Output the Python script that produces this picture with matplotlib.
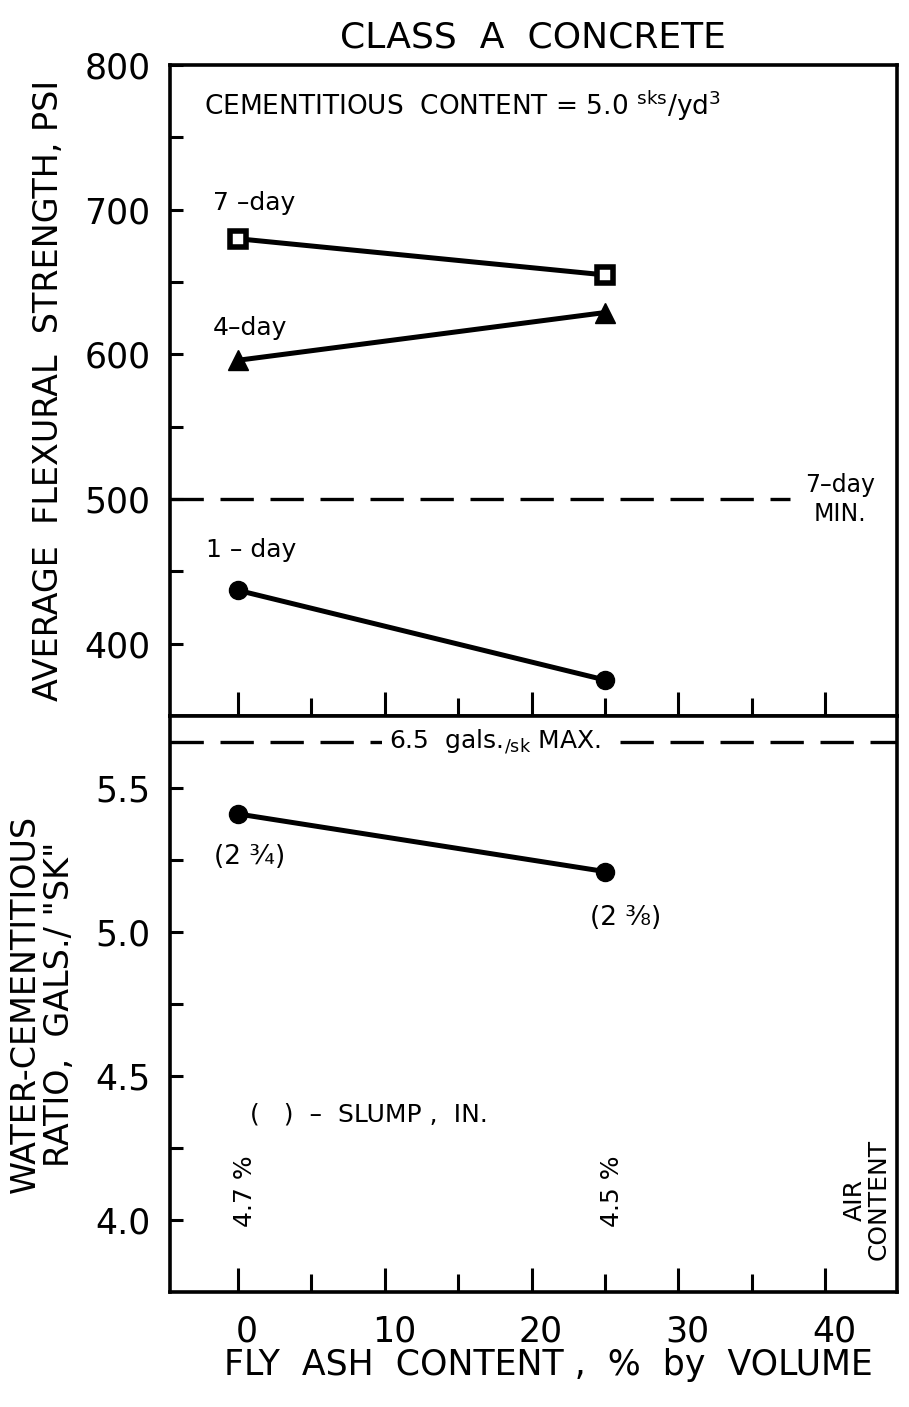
import matplotlib
matplotlib.use('Agg')
from matplotlib import pyplot as plt
from matplotlib import transforms
import numpy as np

# data
fly_ash = [0, 25]
flex_7day = [680, 655]
flex_4day = [596, 629]
flex_1day = [437, 375]
wc_ratio = [5.41, 5.21]
slump_labels = ['(2 ¾)', '(2 ⅜)']
air_labels = ['4.7 %', '4.5 %']
x_ticks = [0, 10, 20, 30, 40]
flex_ticks = [400, 500, 600, 700, 800]
wc_ticks = [4.0, 4.5, 5.0, 5.5]
min_flex_7day = 500
max_wc = 5.66

plt.rcParams['font.family'] = ['DejaVu Sans']

fig = plt.figure(figsize=(9.09, 14.07), dpi=100)
ax1 = fig.add_axes([0.187, 0.491, 0.800, 0.4627])
ax2 = fig.add_axes([0.187, 0.0817, 0.800, 0.4094])

xlim = (-4.63, 44.9)

# top panel: flexural strength
ax1.plot(fly_ash, flex_7day, color='black', lw=3.6, marker='s', ms=11,
         mfc='white', mec='black', mew=4)
ax1.plot(fly_ash, flex_4day, color='black', lw=3.6, marker='^', ms=14, mfc='black', mec='black')
ax1.plot(fly_ash, flex_1day, color='black', lw=3.6, marker='o', ms=13, mfc='black', mec='black')
ax1.plot([xlim[0], 37.6], [min_flex_7day, min_flex_7day], color='black', lw=2.4, dashes=(10, 5))

ax1.set_xlim(*xlim)
ax1.set_ylim(350, 800)
ax1.set_xticks(x_ticks)
ax1.set_xticks(np.arange(5, 45, 10), minor=True)
ax1.set_yticks(flex_ticks)
ax1.set_yticks(np.arange(350, 800, 100), minor=True)
ax1.tick_params(axis='x', which='both', direction='in', width=2.2, labelbottom=False)
ax1.tick_params(axis='x', which='major', length=17)
ax1.tick_params(axis='x', which='minor', length=13)
ax1.tick_params(axis='y', which='both', direction='in', length=9, width=2.2, labelsize=25, pad=14)

ax1.text(-2.3, 772, r'CEMENTITIOUS  CONTENT = 5.0 $^{\mathregular{sks}}$/yd$^{\mathregular{3}}$',
         fontsize=19, va='center', ha='left')
ax1.text(-1.7, 705, '7 –day', fontsize=18, va='center', ha='left')
ax1.text(-1.7, 618, '4–day', fontsize=18, va='center', ha='left')
ax1.text(-2.2, 465, '1 – day', fontsize=18, va='center', ha='left')
ax1.text(41.0, 500, '7–day\nMIN.', fontsize=17, va='center', ha='center', linespacing=1.25)
ax1.set_ylabel('AVERAGE  FLEXURAL  STRENGTH, PSI', fontsize=24, labelpad=14)

# bottom panel: water-cementitious ratio
ax2.axhline(max_wc, color='black', lw=2.4, dashes=(10, 5))
ax2.text(17.5, max_wc, r'6.5  gals.$_{\mathregular{/sk}}$ MAX.', fontsize=18, ha='center', va='center',
         bbox=dict(facecolor='white', edgecolor='none', pad=5))
ax2.plot(fly_ash, wc_ratio, color='black', lw=3.6, marker='o', ms=13, mfc='black', mec='black')
ax2.text(0.8, 5.26, slump_labels[0], fontsize=19, ha='center', va='center')
ax2.text(26.4, 5.05, slump_labels[1], fontsize=19, ha='center', va='center')
ax2.text(0.8, 4.365, '(   )  –  SLUMP ,  IN.', fontsize=18, ha='left', va='center')
for xv, lab in zip(fly_ash, air_labels):
    ax2.text(xv + 0.5, 4.10, lab, fontsize=18, rotation=90, ha='center', va='center')
ax2.text(42.8, 4.07, 'AIR\nCONTENT', fontsize=18, rotation=90, ha='center', va='center', linespacing=1.0)

ax2.set_xlim(*xlim)
ax2.set_ylim(3.75, 5.75)
ax2.set_xticks(x_ticks)
ax2.set_xticks(np.arange(5, 45, 10), minor=True)
ax2.set_yticks(wc_ticks)
ax2.set_yticks(np.arange(4.25, 5.75, 0.5), minor=True)
ax2.tick_params(axis='x', which='both', direction='in', width=2.2, labelsize=25, pad=16)
ax2.tick_params(axis='x', which='major', length=17)
ax2.tick_params(axis='x', which='minor', length=13)
ax2.tick_params(axis='y', which='both', direction='in', length=9, width=2.2, labelsize=25, pad=14)
ax2.set_xticklabels([str(t) for t in x_ticks])

# the printed numbers sit a little right of their ticks
shift = transforms.ScaledTranslation(9 / 100, 0, fig.dpi_scale_trans)
for lab in ax2.get_xticklabels():
    lab.set_transform(lab.get_transform() + shift)

ax2.set_xlabel('FLY  ASH  CONTENT ,  %  by  VOLUME', fontsize=25, labelpad=14)
ax2.xaxis.set_label_coords(0.52, -0.097)
ax2.set_ylabel('WATER-CEMENTITIOUS\nRATIO,  GALS./ "SK"', fontsize=24,
               labelpad=14, linespacing=1.05)

for ax in (ax1, ax2):
    for sp in ax.spines.values():
        sp.set_linewidth(2.6)

fig.text(0.586, 1 - 37 / 1407, 'CLASS  A  CONCRETE', fontsize=26, ha='center', va='center')

plt.savefig('out.png', dpi=100)
